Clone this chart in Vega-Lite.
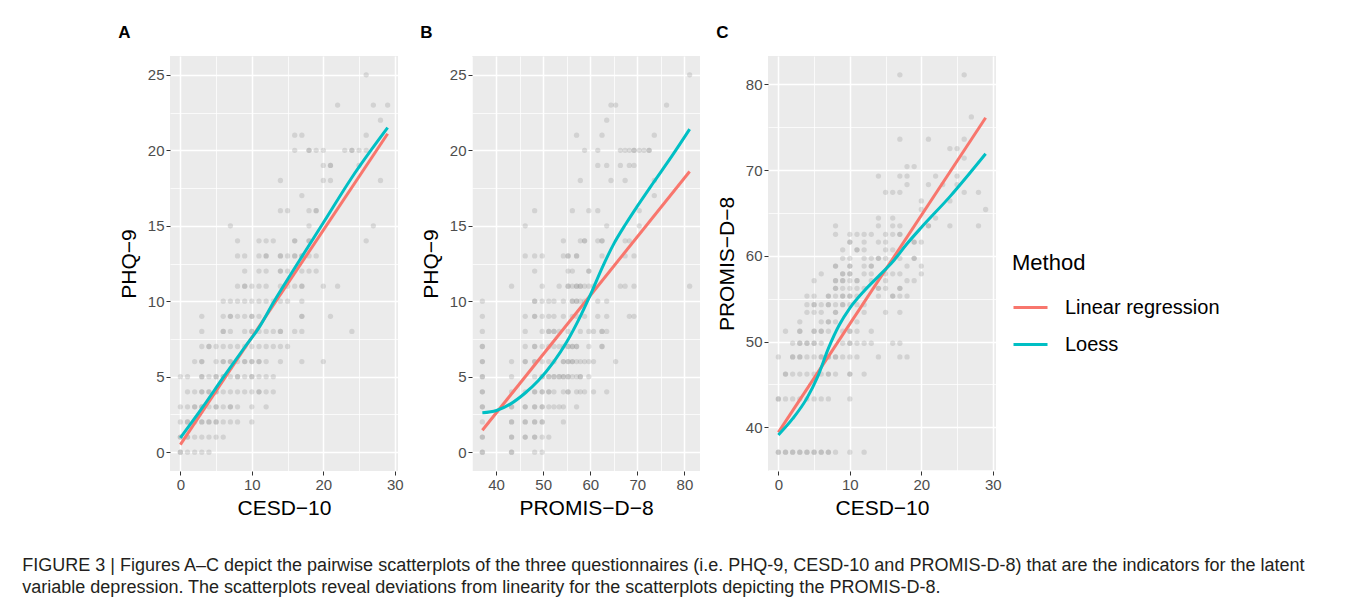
{
  "$schema": "https://vega.github.io/schema/vega-lite/v6.json",
  "padding": {"left": 22, "top": 24, "right": 5, "bottom": 5},
  "background": "white",
  "spacing": 16,
  "title": {
    "text": ["FIGURE 3 | Figures A–C depict the pairwise scatterplots of the three questionnaires (i.e. PHQ-9, CESD-10 and PROMIS-D-8) that are the indicators for the latent", "variable depression. The scatterplots reveal deviations from linearity for the scatterplots depicting the PROMIS-D-8."],
    "orient": "bottom", "anchor": "start", "frame": "bounds",
    "font": "Liberation Sans", "fontSize": 18, "fontWeight": "normal", "color": "#231F20",
    "lineHeight": 22, "offset": 39, "dx": -96
  },
  "resolve": {"scale": {"x": "independent", "y": "independent", "color": "shared"}, "axis": {"x": "independent", "y": "independent"}},
  "datasets": {
    "ptsA": [
      {"x":26,"y":25},{"x":22,"y":23},{"x":27,"y":23},{"x":29,"y":23},{"x":28,"y":22},
      {"x":16,"y":21},{"x":17,"y":21},{"x":26,"y":21},
      {"x":16,"y":20},{"x":18,"y":20},{"x":18,"y":20},{"x":19,"y":20},{"x":20,"y":20},{"x":23,"y":20},{"x":24,"y":20},{"x":24,"y":20},{"x":25,"y":20},{"x":26,"y":20},
      {"x":20,"y":19},{"x":21,"y":19},{"x":21,"y":19},{"x":25,"y":19},
      {"x":14,"y":18},{"x":20,"y":18},{"x":21,"y":18},{"x":28,"y":18},
      {"x":17,"y":17},
      {"x":14,"y":16},{"x":15,"y":16},{"x":18,"y":16},{"x":19,"y":16},{"x":19,"y":16},
      {"x":7,"y":15},{"x":18,"y":15},{"x":27,"y":15},
      {"x":8,"y":14},{"x":11,"y":14},{"x":12,"y":14},{"x":13,"y":14},{"x":16,"y":14},{"x":16,"y":14},{"x":18,"y":14},{"x":18,"y":14},{"x":26,"y":14},
      {"x":8,"y":13},{"x":9,"y":13},{"x":11,"y":13},{"x":12,"y":13},{"x":12,"y":13},{"x":14,"y":13},{"x":14,"y":13},{"x":15,"y":13},{"x":16,"y":13},{"x":16,"y":13},{"x":17,"y":13},{"x":17,"y":13},{"x":18,"y":13},{"x":19,"y":13},
      {"x":9,"y":12},{"x":11,"y":12},{"x":12,"y":12},{"x":14,"y":12},{"x":14,"y":12},{"x":15,"y":12},{"x":17,"y":12},{"x":18,"y":12},{"x":19,"y":12},
      {"x":8,"y":11},{"x":9,"y":11},{"x":9,"y":11},{"x":10,"y":11},{"x":11,"y":11},{"x":12,"y":11},{"x":14,"y":11},{"x":15,"y":11},{"x":16,"y":11},{"x":17,"y":11},{"x":17,"y":11},{"x":20,"y":11},{"x":22,"y":11},
      {"x":6,"y":10},{"x":7,"y":10},{"x":8,"y":10},{"x":9,"y":10},{"x":10,"y":10},{"x":11,"y":10},{"x":12,"y":10},{"x":13,"y":10},{"x":14,"y":10},{"x":15,"y":10},{"x":17,"y":10},
      {"x":3,"y":9},{"x":6,"y":9},{"x":7,"y":9},{"x":7,"y":9},{"x":8,"y":9},{"x":9,"y":9},{"x":10,"y":9},{"x":10,"y":9},{"x":11,"y":9},{"x":17,"y":9},{"x":17,"y":9},{"x":21,"y":9},
      {"x":3,"y":8},{"x":6,"y":8},{"x":6,"y":8},{"x":7,"y":8},{"x":9,"y":8},{"x":10,"y":8},{"x":10,"y":8},{"x":11,"y":8},{"x":12,"y":8},{"x":13,"y":8},{"x":14,"y":8},{"x":14,"y":8},{"x":16,"y":8},{"x":17,"y":8},{"x":24,"y":8},
      {"x":3,"y":7},{"x":4,"y":7},{"x":4,"y":7},{"x":5,"y":7},{"x":6,"y":7},{"x":7,"y":7},{"x":8,"y":7},{"x":9,"y":7},{"x":10,"y":7},{"x":11,"y":7},{"x":12,"y":7},{"x":13,"y":7},{"x":14,"y":7},{"x":15,"y":7},
      {"x":2,"y":6},{"x":3,"y":6},{"x":3,"y":6},{"x":5,"y":6},{"x":6,"y":6},{"x":6,"y":6},{"x":7,"y":6},{"x":7,"y":6},{"x":8,"y":6},{"x":9,"y":6},{"x":9,"y":6},{"x":10,"y":6},{"x":10,"y":6},{"x":11,"y":6},{"x":11,"y":6},{"x":12,"y":6},{"x":14,"y":6},{"x":17,"y":6},{"x":20,"y":6},
      {"x":0,"y":5},{"x":1,"y":5},{"x":3,"y":5},{"x":3,"y":5},{"x":4,"y":5},{"x":5,"y":5},{"x":5,"y":5},{"x":6,"y":5},{"x":6,"y":5},{"x":7,"y":5},{"x":8,"y":5},{"x":8,"y":5},{"x":9,"y":5},{"x":10,"y":5},{"x":10,"y":5},{"x":11,"y":5},{"x":12,"y":5},{"x":13,"y":5},
      {"x":1,"y":4},{"x":2,"y":4},{"x":3,"y":4},{"x":3,"y":4},{"x":4,"y":4},{"x":4,"y":4},{"x":5,"y":4},{"x":5,"y":4},{"x":6,"y":4},{"x":7,"y":4},{"x":8,"y":4},{"x":9,"y":4},{"x":10,"y":4},{"x":11,"y":4},{"x":11,"y":4},{"x":12,"y":4},{"x":13,"y":4},
      {"x":0,"y":3},{"x":1,"y":3},{"x":2,"y":3},{"x":2,"y":3},{"x":3,"y":3},{"x":3,"y":3},{"x":4,"y":3},{"x":5,"y":3},{"x":5,"y":3},{"x":6,"y":3},{"x":7,"y":3},{"x":7,"y":3},{"x":8,"y":3},{"x":10,"y":3},{"x":12,"y":3},
      {"x":0,"y":2},{"x":1,"y":2},{"x":1,"y":2},{"x":2,"y":2},{"x":3,"y":2},{"x":3,"y":2},{"x":4,"y":2},{"x":4,"y":2},{"x":5,"y":2},{"x":5,"y":2},{"x":6,"y":2},{"x":7,"y":2},{"x":8,"y":2},{"x":10,"y":2},
      {"x":0,"y":1},{"x":0,"y":1},{"x":1,"y":1},{"x":1,"y":1},{"x":2,"y":1},{"x":3,"y":1},{"x":4,"y":1},{"x":5,"y":1},{"x":6,"y":1},
      {"x":0,"y":0},{"x":0,"y":0},{"x":1,"y":0},{"x":2,"y":0},{"x":3,"y":0},{"x":4,"y":0}
    ],
    "linA": [
      {"m":"Linear regression","x":0,"y":0.5},{"m":"Linear regression","x":29,"y":21.1},
      {"m":"Loess","x":0,"y":0.95},{"m":"Loess","x":3,"y":2.9},{"m":"Loess","x":6,"y":4.95},{"m":"Loess","x":9,"y":6.95},{"m":"Loess","x":11,"y":8.25},{"m":"Loess","x":13,"y":9.9},{"m":"Loess","x":16,"y":12.2},{"m":"Loess","x":20,"y":15.2},{"m":"Loess","x":24,"y":18.2},{"m":"Loess","x":29,"y":21.5}
    ],
    "ptsB": [
      {"x":81.1,"y":25},{"x":64.4,"y":23},{"x":65.4,"y":23},{"x":76.2,"y":23},{"x":63.5,"y":22},
      {"x":57.1,"y":21},{"x":62.5,"y":21},{"x":73.6,"y":21},
      {"x":58.8,"y":20},{"x":61.6,"y":20},{"x":66.4,"y":20},{"x":67.4,"y":20},{"x":68.3,"y":20},{"x":69.3,"y":20},{"x":69.3,"y":20},{"x":70.4,"y":20},{"x":71.4,"y":20},{"x":72.5,"y":20},{"x":72.5,"y":20},
      {"x":61.6,"y":19},{"x":63.5,"y":19},{"x":66.4,"y":19},{"x":68.3,"y":19},{"x":69.3,"y":19},
      {"x":57.9,"y":18},{"x":64.4,"y":18},{"x":67.4,"y":18},{"x":73.6,"y":18},
      {"x":73.6,"y":17},
      {"x":48.2,"y":16},{"x":56.2,"y":16},{"x":59.7,"y":16},{"x":61.6,"y":16},{"x":70.4,"y":16},
      {"x":46.2,"y":15},{"x":63.5,"y":15},{"x":70.4,"y":15},
      {"x":54.3,"y":14},{"x":57.9,"y":14},{"x":58.8,"y":14},{"x":58.8,"y":14},{"x":61.6,"y":14},{"x":62.5,"y":14},{"x":62.5,"y":14},{"x":67.4,"y":14},{"x":68.3,"y":14},
      {"x":46.2,"y":13},{"x":48.2,"y":13},{"x":49.8,"y":13},{"x":54.3,"y":13},{"x":55.3,"y":13},{"x":55.3,"y":13},{"x":57.1,"y":13},{"x":57.1,"y":13},{"x":62.5,"y":13},{"x":67.4,"y":13},{"x":69.3,"y":13},
      {"x":48.2,"y":12},{"x":55.3,"y":12},{"x":56.2,"y":12},{"x":59.7,"y":12},{"x":59.7,"y":12},
      {"x":43.3,"y":11},{"x":49.8,"y":11},{"x":53.4,"y":11},{"x":55.3,"y":11},{"x":55.3,"y":11},{"x":56.2,"y":11},{"x":57.1,"y":11},{"x":57.1,"y":11},{"x":57.9,"y":11},{"x":57.9,"y":11},{"x":58.8,"y":11},{"x":59.7,"y":11},{"x":60.7,"y":11},{"x":66.4,"y":11},{"x":67.4,"y":11},{"x":69.3,"y":11},{"x":81.1,"y":11},
      {"x":37.1,"y":10},{"x":48.2,"y":10},{"x":48.2,"y":10},{"x":49.8,"y":10},{"x":51.2,"y":10},{"x":52.3,"y":10},{"x":54.3,"y":10},{"x":56.2,"y":10},{"x":56.2,"y":10},{"x":57.1,"y":10},{"x":57.1,"y":10},{"x":57.9,"y":10},{"x":58.8,"y":10},{"x":61.6,"y":10},{"x":63.5,"y":10},
      {"x":37.1,"y":9},{"x":46.2,"y":9},{"x":48.2,"y":9},{"x":48.2,"y":9},{"x":49.8,"y":9},{"x":51.2,"y":9},{"x":52.3,"y":9},{"x":54.3,"y":9},{"x":56.2,"y":9},{"x":57.1,"y":9},{"x":58.8,"y":9},{"x":61.6,"y":9},{"x":63.5,"y":9},{"x":68.3,"y":9},{"x":69.3,"y":9},
      {"x":37.1,"y":8},{"x":46.2,"y":8},{"x":49.8,"y":8},{"x":51.2,"y":8},{"x":51.2,"y":8},{"x":52.3,"y":8},{"x":52.3,"y":8},{"x":53.4,"y":8},{"x":55.3,"y":8},{"x":57.9,"y":8},{"x":59.7,"y":8},{"x":60.7,"y":8},{"x":62.5,"y":8},{"x":62.5,"y":8},{"x":63.5,"y":8},
      {"x":37.1,"y":7},{"x":37.1,"y":7},{"x":46.2,"y":7},{"x":48.2,"y":7},{"x":48.2,"y":7},{"x":49.8,"y":7},{"x":51.2,"y":7},{"x":52.3,"y":7},{"x":53.4,"y":7},{"x":54.3,"y":7},{"x":55.3,"y":7},{"x":55.3,"y":7},{"x":56.2,"y":7},{"x":56.2,"y":7},{"x":57.1,"y":7},{"x":57.1,"y":7},{"x":59.7,"y":7},{"x":62.5,"y":7},{"x":62.5,"y":7},
      {"x":37.1,"y":6},{"x":37.1,"y":6},{"x":43.3,"y":6},{"x":46.2,"y":6},{"x":46.2,"y":6},{"x":48.2,"y":6},{"x":48.2,"y":6},{"x":49.8,"y":6},{"x":51.2,"y":6},{"x":52.3,"y":6},{"x":54.3,"y":6},{"x":54.3,"y":6},{"x":55.3,"y":6},{"x":55.3,"y":6},{"x":56.2,"y":6},{"x":56.2,"y":6},{"x":57.1,"y":6},{"x":57.9,"y":6},{"x":58.8,"y":6},{"x":59.7,"y":6},{"x":60.7,"y":6},{"x":65.4,"y":6},
      {"x":37.1,"y":5},{"x":37.1,"y":5},{"x":43.3,"y":5},{"x":48.2,"y":5},{"x":49.8,"y":5},{"x":49.8,"y":5},{"x":51.2,"y":5},{"x":51.2,"y":5},{"x":52.3,"y":5},{"x":52.3,"y":5},{"x":53.4,"y":5},{"x":53.4,"y":5},{"x":54.3,"y":5},{"x":54.3,"y":5},{"x":55.3,"y":5},{"x":55.3,"y":5},{"x":56.2,"y":5},{"x":57.1,"y":5},{"x":57.9,"y":5},{"x":57.9,"y":5},{"x":59.7,"y":5},
      {"x":37.1,"y":4},{"x":37.1,"y":4},{"x":43.3,"y":4},{"x":46.2,"y":4},{"x":48.2,"y":4},{"x":48.2,"y":4},{"x":49.8,"y":4},{"x":49.8,"y":4},{"x":51.2,"y":4},{"x":51.2,"y":4},{"x":52.3,"y":4},{"x":54.3,"y":4},{"x":55.3,"y":4},{"x":55.3,"y":4},{"x":57.1,"y":4},{"x":57.9,"y":4},{"x":58.8,"y":4},{"x":60.7,"y":4},{"x":63.5,"y":4},
      {"x":37.1,"y":3},{"x":37.1,"y":3},{"x":43.3,"y":3},{"x":43.3,"y":3},{"x":46.2,"y":3},{"x":46.2,"y":3},{"x":48.2,"y":3},{"x":48.2,"y":3},{"x":49.8,"y":3},{"x":49.8,"y":3},{"x":51.2,"y":3},{"x":52.3,"y":3},{"x":53.4,"y":3},{"x":54.3,"y":3},{"x":57.1,"y":3},
      {"x":37.1,"y":2},{"x":43.3,"y":2},{"x":43.3,"y":2},{"x":46.2,"y":2},{"x":46.2,"y":2},{"x":48.2,"y":2},{"x":48.2,"y":2},{"x":49.8,"y":2},{"x":49.8,"y":2},{"x":54.3,"y":2},
      {"x":37.1,"y":1},{"x":37.1,"y":1},{"x":43.3,"y":1},{"x":43.3,"y":1},{"x":46.2,"y":1},{"x":46.2,"y":1},{"x":48.2,"y":1},{"x":48.2,"y":1},{"x":49.8,"y":1},{"x":51.2,"y":1},
      {"x":37.1,"y":0},{"x":37.1,"y":0},{"x":43.3,"y":0},{"x":43.3,"y":0},{"x":48.2,"y":0},{"x":49.8,"y":0}
    ],
    "linB": [
      {"m":"Linear regression","x":37.1,"y":1.45},{"m":"Linear regression","x":81.1,"y":18.6},
      {"m":"Loess","x":37.1,"y":2.61},{"m":"Loess","x":40.1,"y":2.76},{"m":"Loess","x":43.1,"y":3.2},{"m":"Loess","x":46.0,"y":3.87},{"m":"Loess","x":49.0,"y":4.75},{"m":"Loess","x":52.2,"y":5.97},{"m":"Loess","x":55.0,"y":7.3},{"m":"Loess","x":57.9,"y":9.0},{"m":"Loess","x":60.0,"y":10.4},{"m":"Loess","x":62.5,"y":12.2},{"m":"Loess","x":65.0,"y":13.8},{"m":"Loess","x":67.5,"y":15.1},{"m":"Loess","x":70.0,"y":16.3},{"m":"Loess","x":73.5,"y":17.9},{"m":"Loess","x":77.5,"y":19.7},{"m":"Loess","x":81.1,"y":21.4}
    ],
    "ptsC": [
      {"x":17,"y":81.1},{"x":26,"y":81.1},{"x":27,"y":76.2},
      {"x":17,"y":73.6},{"x":21,"y":73.6},{"x":26,"y":73.6},
      {"x":24,"y":72.5},{"x":25,"y":72.5},{"x":26,"y":71.4},
      {"x":18,"y":70.4},{"x":19,"y":70.4},
      {"x":14,"y":69.3},{"x":17,"y":69.3},{"x":18,"y":69.3},{"x":22,"y":69.3},{"x":25,"y":69.3},
      {"x":18,"y":68.3},{"x":21,"y":68.3},{"x":23,"y":68.3},{"x":25,"y":68.3},
      {"x":15,"y":67.4},{"x":16,"y":67.4},{"x":17,"y":67.4},{"x":26,"y":67.4},{"x":28,"y":67.4},
      {"x":20,"y":66.4},{"x":24,"y":66.4},
      {"x":20,"y":65.4},{"x":29,"y":65.4},
      {"x":14,"y":64.4},{"x":16,"y":64.4},{"x":22,"y":64.4},
      {"x":8,"y":63.5},{"x":14,"y":63.5},{"x":16,"y":63.5},{"x":17,"y":63.5},{"x":21,"y":63.5},{"x":21,"y":63.5},{"x":24,"y":63.5},{"x":28,"y":63.5},
      {"x":8,"y":62.5},{"x":10,"y":62.5},{"x":11,"y":62.5},{"x":12,"y":62.5},{"x":13,"y":62.5},{"x":15,"y":62.5},{"x":16,"y":62.5},{"x":17,"y":62.5},{"x":17,"y":62.5},
      {"x":10,"y":61.6},{"x":10,"y":61.6},{"x":12,"y":61.6},{"x":14,"y":61.6},{"x":15,"y":61.6},{"x":19,"y":61.6},{"x":19,"y":61.6},{"x":20,"y":61.6},
      {"x":9,"y":60.7},{"x":11,"y":60.7},{"x":11,"y":60.7},{"x":12,"y":60.7},{"x":15,"y":60.7},{"x":16,"y":60.7},
      {"x":9,"y":59.7},{"x":10,"y":59.7},{"x":12,"y":59.7},{"x":13,"y":59.7},{"x":14,"y":59.7},{"x":14,"y":59.7},{"x":15,"y":59.7},{"x":17,"y":59.7},{"x":19,"y":59.7},{"x":19,"y":59.7},
      {"x":8,"y":58.8},{"x":8,"y":58.8},{"x":10,"y":58.8},{"x":10,"y":58.8},{"x":12,"y":58.8},{"x":13,"y":58.8},{"x":13,"y":58.8},{"x":18,"y":58.8},{"x":20,"y":58.8},
      {"x":6,"y":57.9},{"x":9,"y":57.9},{"x":9,"y":57.9},{"x":10,"y":57.9},{"x":10,"y":57.9},{"x":12,"y":57.9},{"x":13,"y":57.9},{"x":15,"y":57.9},{"x":16,"y":57.9},{"x":17,"y":57.9},{"x":20,"y":57.9},
      {"x":5,"y":57.1},{"x":8,"y":57.1},{"x":8,"y":57.1},{"x":9,"y":57.1},{"x":9,"y":57.1},{"x":10,"y":57.1},{"x":11,"y":57.1},{"x":11,"y":57.1},{"x":13,"y":57.1},{"x":15,"y":57.1},{"x":18,"y":57.1},{"x":19,"y":57.1},
      {"x":8,"y":56.2},{"x":8,"y":56.2},{"x":9,"y":56.2},{"x":10,"y":56.2},{"x":11,"y":56.2},{"x":12,"y":56.2},{"x":14,"y":56.2},{"x":14,"y":56.2},{"x":15,"y":56.2},{"x":17,"y":56.2},{"x":17,"y":56.2},
      {"x":4,"y":55.3},{"x":5,"y":55.3},{"x":7,"y":55.3},{"x":7,"y":55.3},{"x":8,"y":55.3},{"x":9,"y":55.3},{"x":9,"y":55.3},{"x":10,"y":55.3},{"x":10,"y":55.3},{"x":11,"y":55.3},{"x":14,"y":55.3},{"x":16,"y":55.3},{"x":16,"y":55.3},{"x":17,"y":55.3},{"x":18,"y":55.3},
      {"x":4,"y":54.3},{"x":5,"y":54.3},{"x":5,"y":54.3},{"x":6,"y":54.3},{"x":7,"y":54.3},{"x":7,"y":54.3},{"x":8,"y":54.3},{"x":9,"y":54.3},{"x":9,"y":54.3},{"x":10,"y":54.3},{"x":11,"y":54.3},{"x":12,"y":54.3},
      {"x":4,"y":53.4},{"x":5,"y":53.4},{"x":6,"y":53.4},{"x":8,"y":53.4},{"x":8,"y":53.4},{"x":12,"y":53.4},{"x":15,"y":53.4},{"x":17,"y":53.4},
      {"x":3,"y":52.3},{"x":6,"y":52.3},{"x":7,"y":52.3},{"x":7,"y":52.3},{"x":8,"y":52.3},{"x":11,"y":52.3},
      {"x":1,"y":51.2},{"x":3,"y":51.2},{"x":3,"y":51.2},{"x":5,"y":51.2},{"x":5,"y":51.2},{"x":6,"y":51.2},{"x":6,"y":51.2},{"x":7,"y":51.2},{"x":9,"y":51.2},{"x":10,"y":51.2},{"x":10,"y":51.2},{"x":11,"y":51.2},{"x":13,"y":51.2},
      {"x":2,"y":49.8},{"x":3,"y":49.8},{"x":3,"y":49.8},{"x":4,"y":49.8},{"x":4,"y":49.8},{"x":5,"y":49.8},{"x":5,"y":49.8},{"x":6,"y":49.8},{"x":9,"y":49.8},{"x":10,"y":49.8},{"x":10,"y":49.8},{"x":11,"y":49.8},{"x":12,"y":49.8},{"x":13,"y":49.8},{"x":16,"y":49.8},{"x":17,"y":49.8},
      {"x":0,"y":48.2},{"x":2,"y":48.2},{"x":2,"y":48.2},{"x":3,"y":48.2},{"x":3,"y":48.2},{"x":4,"y":48.2},{"x":5,"y":48.2},{"x":6,"y":48.2},{"x":6,"y":48.2},{"x":7,"y":48.2},{"x":7,"y":48.2},{"x":8,"y":48.2},{"x":8,"y":48.2},{"x":9,"y":48.2},{"x":10,"y":48.2},{"x":11,"y":48.2},{"x":14,"y":48.2},{"x":17,"y":48.2},{"x":18,"y":48.2},
      {"x":1,"y":46.2},{"x":1,"y":46.2},{"x":2,"y":46.2},{"x":3,"y":46.2},{"x":4,"y":46.2},{"x":5,"y":46.2},{"x":6,"y":46.2},{"x":7,"y":46.2},{"x":7,"y":46.2},{"x":8,"y":46.2},{"x":10,"y":46.2},{"x":10,"y":46.2},{"x":12,"y":46.2},
      {"x":0,"y":43.3},{"x":0,"y":43.3},{"x":1,"y":43.3},{"x":2,"y":43.3},{"x":3,"y":43.3},{"x":4,"y":43.3},{"x":5,"y":43.3},{"x":6,"y":43.3},{"x":7,"y":43.3},{"x":10,"y":43.3},
      {"x":0,"y":37.1},{"x":0,"y":37.1},{"x":1,"y":37.1},{"x":1,"y":37.1},{"x":2,"y":37.1},{"x":2,"y":37.1},{"x":3,"y":37.1},{"x":3,"y":37.1},{"x":4,"y":37.1},{"x":4,"y":37.1},{"x":5,"y":37.1},{"x":5,"y":37.1},{"x":6,"y":37.1},{"x":6,"y":37.1},{"x":7,"y":37.1},{"x":7,"y":37.1},{"x":8,"y":37.1},{"x":10,"y":37.1},{"x":12,"y":37.1}
    ],
    "linC": [
      {"m":"Linear regression","x":0,"y":39.4},{"m":"Linear regression","x":29,"y":76.1},
      {"m":"Loess","x":0,"y":39.1},{"m":"Loess","x":2,"y":41.0},{"m":"Loess","x":4,"y":43.4},{"m":"Loess","x":5.5,"y":45.9},{"m":"Loess","x":7,"y":49.2},{"m":"Loess","x":8.5,"y":51.9},{"m":"Loess","x":10,"y":53.9},{"m":"Loess","x":12,"y":55.9},{"m":"Loess","x":14,"y":57.6},{"m":"Loess","x":16,"y":59.3},{"m":"Loess","x":18,"y":61.4},{"m":"Loess","x":20,"y":63.3},{"m":"Loess","x":24,"y":66.9},{"m":"Loess","x":29,"y":71.9}
    ]
  },
  "hconcat": [
    {
      "width": 228, "height": 415,
      "title": {"text": "A", "anchor": "start", "frame": "bounds", "fontSize": 17, "fontWeight": "bold", "color": "black", "offset": 14},
      "encoding": {
        "x": {"field": "x", "type": "quantitative", "scale": {"domain": [-1.45, 30.45], "nice": false, "zero": false},
          "axis": {"title": "CESD−10", "values": [0,5,10,15,20,25,30], "labelExpr": "datum.value % 10 === 0 ? datum.label : ''",
            "gridWidth": {"condition": {"test": "datum.value % 10 !== 0", "value": 0.75}, "value": 1.5},
            "tickOpacity": {"condition": {"test": "datum.value % 10 !== 0", "value": 0}, "value": 1}}},
        "y": {"field": "y", "type": "quantitative", "scale": {"domain": [-1.25, 26.25], "nice": false, "zero": false},
          "axis": {"title": "PHQ−9", "values": [0,2.5,5,7.5,10,12.5,15,17.5,20,22.5,25], "labelExpr": "datum.value % 5 === 0 ? datum.label : ''",
            "gridWidth": {"condition": {"test": "datum.value % 5 !== 0", "value": 0.75}, "value": 1.5},
            "tickOpacity": {"condition": {"test": "datum.value % 5 !== 0", "value": 0}, "value": 1}}}
      },
      "layer": [
        {"data": {"name": "ptsA"}, "mark": {"type": "circle", "size": 28, "color": "#999999", "opacity": 0.3}},
        {"data": {"name": "linA"}, "mark": {"type": "line", "strokeWidth": 3, "interpolate": "monotone"},
          "encoding": {"color": {"field": "m", "type": "nominal", "scale": {"domain": ["Linear regression", "Loess"], "range": ["#F8766D", "#00BFC4"]},
            "legend": {"title": "Method", "orient": "none", "legendX": 842, "legendY": 197}}}}
      ]
    },
    {
      "width": 228, "height": 415,
      "title": {"text": "B", "anchor": "start", "frame": "bounds", "fontSize": 17, "fontWeight": "bold", "color": "black", "offset": 14},
      "encoding": {
        "x": {"field": "x", "type": "quantitative", "scale": {"domain": [34.9, 83.3], "nice": false, "zero": false},
          "axis": {"title": "PROMIS−D−8", "values": [35,40,45,50,55,60,65,70,75,80], "labelExpr": "datum.value % 10 === 0 ? datum.label : ''",
            "gridWidth": {"condition": {"test": "datum.value % 10 !== 0", "value": 0.75}, "value": 1.5},
            "tickOpacity": {"condition": {"test": "datum.value % 10 !== 0", "value": 0}, "value": 1}}},
        "y": {"field": "y", "type": "quantitative", "scale": {"domain": [-1.25, 26.25], "nice": false, "zero": false},
          "axis": {"title": "PHQ−9", "values": [0,2.5,5,7.5,10,12.5,15,17.5,20,22.5,25], "labelExpr": "datum.value % 5 === 0 ? datum.label : ''",
            "gridWidth": {"condition": {"test": "datum.value % 5 !== 0", "value": 0.75}, "value": 1.5},
            "tickOpacity": {"condition": {"test": "datum.value % 5 !== 0", "value": 0}, "value": 1}}}
      },
      "layer": [
        {"data": {"name": "ptsB"}, "mark": {"type": "circle", "size": 28, "color": "#999999", "opacity": 0.3}},
        {"data": {"name": "linB"}, "mark": {"type": "line", "strokeWidth": 3, "interpolate": "monotone"},
          "encoding": {"color": {"field": "m", "type": "nominal", "scale": {"domain": ["Linear regression", "Loess"], "range": ["#F8766D", "#00BFC4"]},
            "legend": {"title": "Method", "orient": "none", "legendX": 842, "legendY": 197}}}}
      ]
    },
    {
      "width": 228, "height": 415,
      "title": {"text": "C", "anchor": "start", "frame": "bounds", "fontSize": 17, "fontWeight": "bold", "color": "black", "offset": 14},
      "encoding": {
        "x": {"field": "x", "type": "quantitative", "scale": {"domain": [-1.45, 30.45], "nice": false, "zero": false},
          "axis": {"title": "CESD−10", "values": [0,5,10,15,20,25,30], "labelExpr": "datum.value % 10 === 0 ? datum.label : ''",
            "gridWidth": {"condition": {"test": "datum.value % 10 !== 0", "value": 0.75}, "value": 1.5},
            "tickOpacity": {"condition": {"test": "datum.value % 10 !== 0", "value": 0}, "value": 1}}},
        "y": {"field": "y", "type": "quantitative", "scale": {"domain": [34.9, 83.3], "nice": false, "zero": false},
          "axis": {"title": "PROMIS−D−8", "values": [35,40,45,50,55,60,65,70,75,80], "labelExpr": "datum.value % 10 === 0 ? datum.label : ''",
            "gridWidth": {"condition": {"test": "datum.value % 10 !== 0", "value": 0.75}, "value": 1.5},
            "tickOpacity": {"condition": {"test": "datum.value % 10 !== 0", "value": 0}, "value": 1}}}
      },
      "layer": [
        {"data": {"name": "ptsC"}, "mark": {"type": "circle", "size": 28, "color": "#999999", "opacity": 0.3}},
        {"data": {"name": "linC"}, "mark": {"type": "line", "strokeWidth": 3, "interpolate": "monotone"},
          "encoding": {"color": {"field": "m", "type": "nominal", "scale": {"domain": ["Linear regression", "Loess"], "range": ["#F8766D", "#00BFC4"]},
            "legend": {"title": "Method", "orient": "none", "legendX": 842, "legendY": 197}}}}
      ]
    }
  ],
  "config": {
    "font": "Liberation Sans",
    "view": {"fill": "#EBEBEB", "stroke": null},
    "axis": {"domain": false, "grid": true, "gridColor": "#FFFFFF", "tickColor": "#333333", "tickSize": 4, "tickWidth": 1,
      "labelColor": "#4D4D4D", "labelFontSize": 15, "labelFont": "Liberation Sans", "labelPadding": 2, "labelFlush": false, "labelOverlap": false,
      "titleFont": "Liberation Sans", "titleFontSize": 21, "titleFontWeight": "normal", "titleColor": "#000000", "titlePadding": 5},
    "axisY": {"titlePadding": 8},
    "legend": {"symbolType": "stroke", "symbolSize": 1156, "symbolStrokeWidth": 3, "labelFontSize": 20, "labelColor": "#000000", "labelFont": "Liberation Sans",
      "titleFontSize": 22, "titleFontWeight": "normal", "titleColor": "#000000", "titleFont": "Liberation Sans", "titlePadding": 14, "rowPadding": 8, "labelOffset": 16}
  }
}
